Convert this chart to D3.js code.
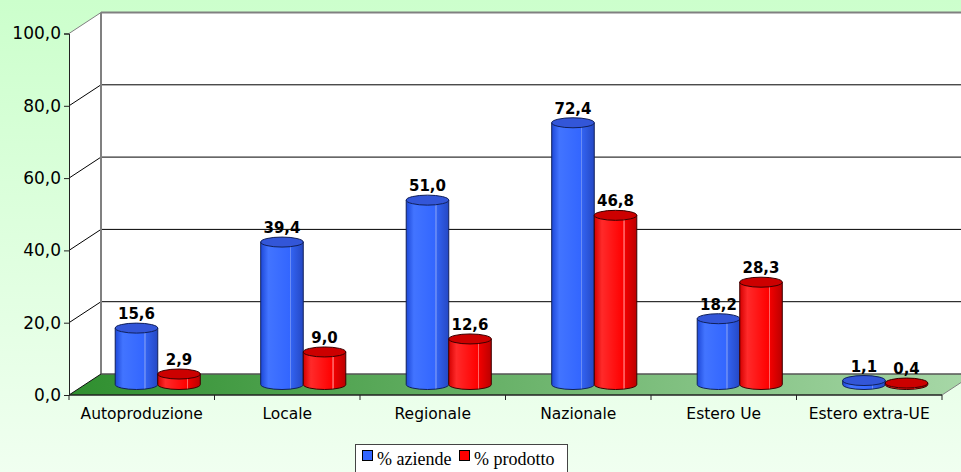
<!DOCTYPE html>
<html>
<head>
<meta charset="utf-8">
<script src="https://cdn.jsdelivr.net/npm/d3@7"></script>
<style>
  body { margin: 0; }
  svg { display: block; }
</style>
</head>
<body>
<script>
// data
const categories = ["Autoproduzione", "Locale", "Regionale", "Nazionale", "Estero Ue", "Estero extra-UE"];
const seriesNames = ["% aziende", "% prodotto"];
const aziende = [15.6, 39.4, 51.0, 72.4, 18.2, 1.1];
const prodotto = [2.9, 9.0, 12.6, 46.8, 28.3, 0.4];
const yTicks = [0, 20, 40, 60, 80, 100];

const W = 961, H = 472;
const depth = {x: 32, y: -21}; // offset of the back wall

const svg = d3.select("body").append("svg")
  .attr("width", W)
  .attr("height", H);

const defs = svg.append("defs");

// background
const bg = defs.append("linearGradient").attr("id", "bg")
  .attr("x1", 0).attr("y1", 0).attr("x2", 0).attr("y2", 1);
bg.append("stop").attr("offset", "0%").attr("stop-color", "#ccffcc");
bg.append("stop").attr("offset", "100%").attr("stop-color", "#f0fff0");
svg.append("rect").attr("width", W).attr("height", H).attr("fill", "url(#bg)");

// floor colour
const fl = defs.append("linearGradient").attr("id", "floor")
  .attr("x1", 0).attr("y1", 0).attr("x2", 1).attr("y2", 0);
fl.append("stop").attr("offset", "0%").attr("stop-color", "#2f8f2f");
fl.append("stop").attr("offset", "100%").attr("stop-color", "#a8d8a8");

// bar shading
function barGrad(id, c) {
  const g = defs.append("linearGradient").attr("id", id)
    .attr("x1", 0).attr("y1", 0).attr("x2", 1).attr("y2", 0);
  [[0, c[0]], [0.18, c[1]], [0.68, c[2]], [0.69, c[3]], [0.71, c[3]], [0.72, c[4]], [1, c[5]]]
    .forEach(s => g.append("stop").attr("offset", s[0]).attr("stop-color", s[1]));
}
barGrad("gBlue", ["#1d48d8", "#4274ff", "#3366ff", "#6a8cf5", "#3262f0", "#2548c4"]);
barGrad("gRed", ["#d40000", "#ff2a2a", "#ff0000", "#ff6666", "#f00000", "#bb0000"]);

// scales
const x0 = d3.scaleBand().domain(categories).range([69, 942]);
const x1 = d3.scaleBand().domain(seriesNames).range([0, x0.bandwidth()]).paddingOuter(0.71);
const y = d3.scaleLinear().domain([0, 100]).range([395, 33.5]);

const wallX = 69 + depth.x;
// left wall
svg.append("path")
  .attr("d", `M69,${y(0)} L69,${y(100)} L${wallX},${y(100) + depth.y} L${wallX},${y(0) + depth.y} Z`)
  .attr("fill", "#fff");
// back wall
svg.append("rect")
  .attr("x", wallX).attr("y", y(100) + depth.y)
  .attr("width", W - wallX).attr("height", y(0) - y(100))
  .attr("fill", "#fff");

// grid lines
const grid = svg.append("g");
yTicks.filter(t => t > 0).forEach(t => {
  const col = t === 100 ? "#808080" : "#000";
  grid.append("line")
    .attr("x1", 69).attr("y1", y(t)).attr("x2", wallX).attr("y2", y(t) + depth.y)
    .attr("stroke", col).attr("stroke-width", 1);
  grid.append("line")
    .attr("x1", wallX).attr("y1", y(t) + depth.y).attr("x2", W).attr("y2", y(t) + depth.y)
    .attr("stroke", col).attr("stroke-width", t === 100 ? 2 : 1);
});
grid.append("line")
  .attr("x1", wallX).attr("y1", y(100) + depth.y).attr("x2", wallX).attr("y2", y(0) + depth.y)
  .attr("stroke", "#808080").attr("stroke-width", 2);

// floor
svg.append("path")
  .attr("d", `M69,${y(0)} L942,${y(0)} L${942 + depth.x},${y(0) + depth.y} L${wallX},${y(0) + depth.y} Z`)
  .attr("fill", "url(#floor)");
svg.append("line")
  .attr("x1", wallX).attr("y1", y(0) + depth.y).attr("x2", W).attr("y2", y(0) + depth.y)
  .attr("stroke", "#555").attr("stroke-width", 1.5);
svg.append("line")
  .attr("x1", 69).attr("y1", y(0)).attr("x2", wallX).attr("y2", y(0) + depth.y)
  .attr("stroke", "#111");
svg.append("line")
  .attr("x1", 942).attr("y1", y(0)).attr("x2", 942 + depth.x).attr("y2", y(0) + depth.y)
  .attr("stroke", "#808080");

// Y axis
const axeY = d3.axisLeft(y).tickValues(yTicks).tickSize(5)
  .tickFormat(d => d3.format(".1f")(d).replace(".", ","));
const groupeY = svg.append("g").attr("transform", "translate(69,0)").call(axeY);
groupeY.select(".domain").attr("stroke", "#222");
groupeY.selectAll(".tick line").attr("stroke", "#222");
groupeY.selectAll("text")
  .style("font-family", "'DejaVu Sans', Verdana, sans-serif")
  .style("font-size", "17px")
  .attr("fill", "#000")
  .attr("x", -8);

// X axis
const groupeX = svg.append("g").attr("transform", `translate(0,${y(0)})`);
groupeX.append("line").attr("x1", 69).attr("x2", 942).attr("stroke", "#222").attr("stroke-width", 1.5);
categories.concat([null]).forEach(c => {
  const xx = c ? x0(c) : 942;
  groupeX.append("line").attr("x1", xx).attr("x2", xx).attr("y1", 0).attr("y2", 5).attr("stroke", "#222");
});
groupeX.selectAll("text.cat").data(categories).join("text")
  .attr("class", "cat")
  .attr("x", d => x0(d) + x0.bandwidth() / 2)
  .attr("y", 24)
  .attr("text-anchor", "middle")
  .style("font-family", "'DejaVu Sans', Verdana, sans-serif")
  .style("font-size", "15.5px")
  .attr("fill", "#000")
  .text(d => d);

// cylinders
const series = [
  {name: seriesNames[0], values: aziende, body: "url(#gBlue)", top: "#3356d8", edge: "#10205a"},
  {name: seriesNames[1], values: prodotto, body: "url(#gRed)", top: "#cc0000", edge: "#3a0000"}
];
const bw = x1.bandwidth();
const rx = bw / 2, ry = 5;
const bars = svg.append("g").attr("transform", `translate(${depth.x / 2},${depth.y / 2})`);

categories.forEach((c, i) => {
  series.forEach(s => {
    const v = s.values[i];
    const left = x0(c) + x1(s.name);
    const cx = left + rx;
    const yb = y(0), yt = y(v);
    bars.append("path")
      .attr("d", `M${left},${yt} L${left},${yb} A${rx},${ry} 0 0 0 ${left + bw},${yb} L${left + bw},${yt} Z`)
      .attr("fill", s.body)
      .attr("stroke", s.edge).attr("stroke-width", 1);
    bars.append("ellipse")
      .attr("cx", cx).attr("cy", yt).attr("rx", rx).attr("ry", ry)
      .attr("fill", s.top)
      .attr("stroke", s.edge).attr("stroke-width", 1);
    bars.append("text")
      .attr("x", cx).attr("y", yt - 9)
      .attr("text-anchor", "middle")
      .style("font-family", "'DejaVu Sans', Verdana, sans-serif")
      .style("font-size", "15px")
      .style("font-weight", "bold")
      .attr("fill", "#000")
      .text(d3.format(".1f")(v).replace(".", ","));
  });
});

// legend
const legend = svg.append("g");
legend.append("rect")
  .attr("x", 355.5).attr("y", 444.5).attr("width", 212).attr("height", 34)
  .attr("fill", "#fff").attr("stroke", "#444");
const legX = [362, 459];
series.forEach((s, i) => {
  legend.append("rect")
    .attr("x", legX[i] + 0.5).attr("y", 450.5).attr("width", 10).attr("height", 10)
    .attr("fill", i === 0 ? "#3366ff" : "#ff0000").attr("stroke", "#000");
  legend.append("text")
    .attr("x", legX[i] + 15).attr("y", 465)
    .style("font-family", "'Liberation Serif', 'Times New Roman', serif")
    .style("font-size", "18px")
    .attr("fill", "#000")
    .text(s.name);
});
</script>
</body>
</html>
